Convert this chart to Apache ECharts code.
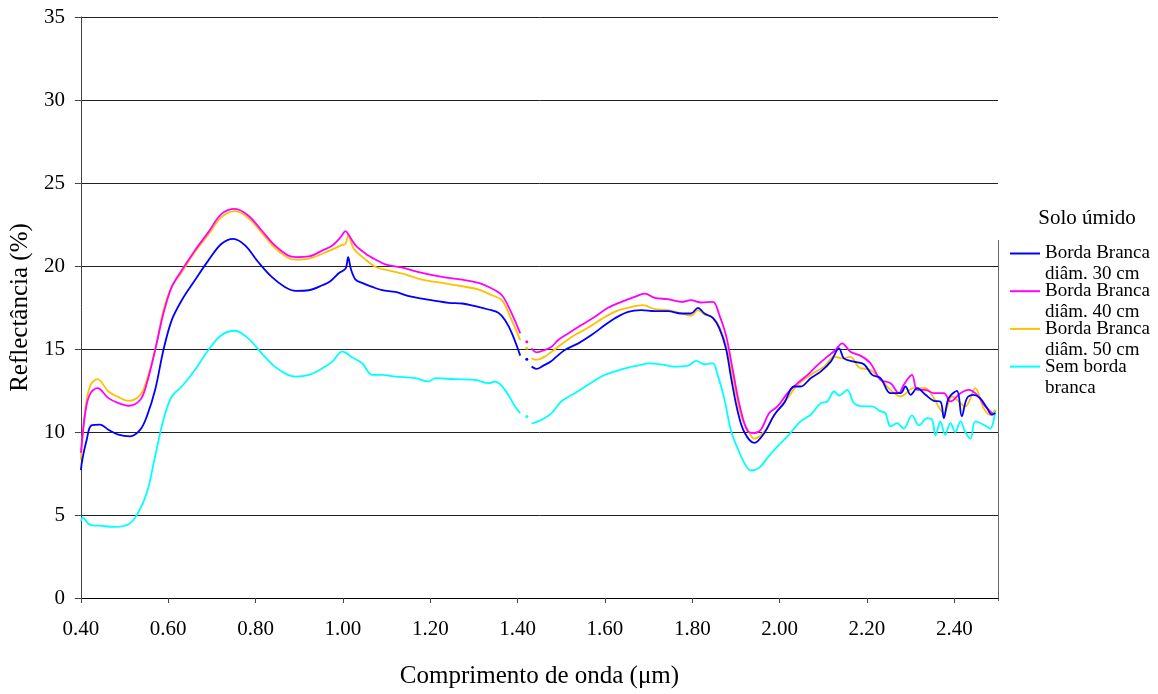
<!DOCTYPE html>
<html>
<head>
<meta charset="utf-8">
<script src="https://cdn.jsdelivr.net/npm/echarts@6/dist/echarts.min.js"></script>
<style>
  html, body { margin: 0; padding: 0; background: #fff; }
  #chart { width: 1158px; height: 694px; }
</style>
</head>
<body>
<div id="chart"></div>
<script>
// Spectral reflectance of moist soil, 0.40–2.50 µm.
// Each curve is split at the 1.4 µm water band; a single reading sits inside the gap.

const seriesNames = [
  'Borda Branca\ndiâm. 30 cm',
  'Borda Branca\ndiâm. 40 cm',
  'Borda Branca\ndiâm. 50 cm',
  'Sem borda\nbranca'
];
const seriesColors = ['#0000FF', '#FF00FF', '#FFC000', '#00FFFF'];

const xTicks = { min: 0.4, max: 2.5, step: 0.2 };
const yTicks = { min: 0, max: 35, step: 5 };

// [wavelength µm, reflectance %] — visible / near infrared up to the water band
const borda30Vis = [[0.400,7.7],[0.403,8.3],[0.413,9.5],[0.424,10.4],[0.444,10.45],[0.463,10.14],[0.486,9.84],[0.513,9.74],[0.536,10.14],[0.551,10.94],[0.570,12.54],[0.589,14.94],[0.608,16.74],[0.631,17.94],[0.661,19.14],[0.692,20.34],[0.722,21.34],[0.749,21.64],[0.776,21.24],[0.806,20.24],[0.837,19.34],[0.867,18.74],[0.892,18.5],[0.922,18.54],[0.953,18.84],[0.972,19.1],[0.991,19.58],[1.006,19.84],[1.012,20.54],[1.018,19.84],[1.029,19.18],[1.044,18.98],[1.067,18.74],[1.090,18.54],[1.120,18.44],[1.151,18.18],[1.181,18.04],[1.212,17.9],[1.242,17.78],[1.273,17.74],[1.303,17.58],[1.333,17.38],[1.356,17.18],[1.371,16.74],[1.387,15.94],[1.406,14.6]];
const borda40Vis = [[0.400,8.74],[0.411,11.34],[0.422,12.34],[0.438,12.64],[0.463,12.04],[0.486,11.74],[0.509,11.58],[0.536,11.94],[0.551,12.94],[0.570,14.94],[0.589,17.14],[0.608,18.74],[0.631,19.74],[0.661,20.94],[0.692,22.04],[0.722,23.14],[0.753,23.44],[0.783,23.04],[0.814,22.14],[0.844,21.24],[0.874,20.64],[0.892,20.54],[0.922,20.58],[0.953,20.94],[0.976,21.24],[0.995,21.74],[1.006,22.1],[1.014,21.84],[1.029,21.24],[1.052,20.74],[1.075,20.38],[1.097,20.1],[1.136,19.9],[1.181,19.58],[1.227,19.34],[1.273,19.18],[1.311,18.98],[1.341,18.64],[1.364,18.24],[1.383,17.34],[1.406,15.94]];
const borda50Vis = [[0.400,8.34],[0.411,11.54],[0.422,12.84],[0.438,13.18],[0.463,12.44],[0.486,12.1],[0.509,11.88],[0.536,12.24],[0.551,13.14],[0.570,14.94],[0.589,17.34],[0.608,18.74],[0.631,19.64],[0.661,20.84],[0.692,21.9],[0.722,22.94],[0.753,23.3],[0.783,22.9],[0.814,22.0],[0.844,21.1],[0.874,20.5],[0.892,20.38],[0.922,20.44],[0.953,20.74],[0.976,21.0],[0.995,21.24],[1.006,21.34],[1.012,21.84],[1.025,21.04],[1.052,20.38],[1.075,19.94],[1.097,19.78],[1.136,19.54],[1.181,19.18],[1.227,18.98],[1.273,18.78],[1.311,18.58],[1.341,18.24],[1.364,17.94],[1.383,16.94],[1.406,15.54]];
const semBordaVis = [[0.400,4.64],[0.404,4.84],[0.419,4.44],[0.449,4.34],[0.478,4.28],[0.509,4.44],[0.529,5.04],[0.551,6.34],[0.570,8.54],[0.589,10.74],[0.608,12.14],[0.631,12.74],[0.661,13.74],[0.692,14.94],[0.722,15.84],[0.753,16.1],[0.783,15.64],[0.814,14.74],[0.844,13.94],[0.874,13.44],[0.892,13.34],[0.922,13.44],[0.953,13.84],[0.976,14.24],[0.998,14.84],[1.006,14.78],[1.021,14.5],[1.044,14.14],[1.067,13.44],[1.090,13.44],[1.120,13.34],[1.166,13.24],[1.196,13.04],[1.212,13.24],[1.257,13.18],[1.303,13.14],[1.333,12.94],[1.349,13.04],[1.371,12.54],[1.394,11.54],[1.406,11.14]];

// single readings inside the water band, one per curve
const bandWavelength = 1.421;
const bandReadings = [14.38, 15.44, 15.04, 10.94];

// [wavelength µm, reflectance %] — after the water band
const borda30Nir = [[1.432,13.94],[1.443,13.8],[1.459,14.0],[1.476,14.24],[1.489,14.54],[1.508,14.94],[1.539,15.34],[1.569,15.84],[1.600,16.44],[1.622,16.84],[1.653,17.24],[1.683,17.34],[1.714,17.28],[1.744,17.28],[1.775,17.14],[1.797,17.14],[1.813,17.48],[1.828,17.14],[1.847,16.88],[1.862,16.24],[1.877,15.04],[1.889,13.24],[1.904,11.24],[1.919,10.0],[1.942,9.34],[1.965,9.94],[1.988,11.04],[2.010,11.74],[2.033,12.74],[2.048,12.74],[2.071,13.24],[2.094,13.64],[2.117,14.24],[2.136,15.04],[2.147,14.44],[2.170,14.24],[2.193,14.08],[2.212,13.44],[2.231,13.24],[2.254,12.34],[2.277,12.34],[2.288,12.74],[2.300,12.24],[2.315,12.64],[2.334,12.24],[2.353,11.88],[2.368,11.84],[2.376,10.84],[2.387,12.04],[2.406,12.48],[2.417,10.94],[2.429,12.04],[2.444,12.24],[2.459,12.04],[2.475,11.44],[2.486,11.04],[2.494,11.14]];
const borda40Nir = [[1.432,15.04],[1.443,14.8],[1.462,14.94],[1.478,15.14],[1.493,15.54],[1.516,15.94],[1.546,16.44],[1.577,16.94],[1.607,17.48],[1.638,17.84],[1.668,18.14],[1.691,18.34],[1.714,18.08],[1.744,18.0],[1.775,17.84],[1.797,17.94],[1.820,17.8],[1.847,17.84],[1.862,17.04],[1.877,15.84],[1.892,13.84],[1.908,11.64],[1.927,10.04],[1.942,9.94],[1.957,10.14],[1.976,11.14],[1.995,11.54],[2.018,12.34],[2.041,12.94],[2.064,13.44],[2.083,13.94],[2.109,14.54],[2.128,14.94],[2.143,15.34],[2.162,14.84],[2.185,14.6],[2.208,14.14],[2.231,13.14],[2.254,12.94],[2.273,12.34],[2.284,12.84],[2.303,13.44],[2.315,12.54],[2.334,12.54],[2.353,12.34],[2.376,12.34],[2.391,11.84],[2.414,12.34],[2.433,12.54],[2.452,12.24],[2.471,11.54],[2.490,11.04]];
const borda50Nir = [[1.432,14.44],[1.443,14.34],[1.462,14.54],[1.478,14.84],[1.500,15.28],[1.531,15.84],[1.561,16.28],[1.592,16.8],[1.622,17.24],[1.653,17.48],[1.687,17.64],[1.714,17.4],[1.744,17.34],[1.775,17.14],[1.797,17.0],[1.813,17.34],[1.828,17.08],[1.847,16.88],[1.862,16.34],[1.881,14.84],[1.896,12.84],[1.911,11.04],[1.927,10.14],[1.942,9.6],[1.965,10.04],[1.988,11.04],[2.018,12.04],[2.041,12.84],[2.071,13.44],[2.102,13.94],[2.125,14.54],[2.143,14.44],[2.162,14.52],[2.182,13.88],[2.208,13.74],[2.239,12.94],[2.262,12.34],[2.277,12.14],[2.307,12.64],[2.334,12.64],[2.353,12.04],[2.376,11.14],[2.395,12.14],[2.425,11.54],[2.448,12.64],[2.467,11.44],[2.482,11.04],[2.494,11.34]];
const semBordaNir = [[1.432,10.5],[1.455,10.74],[1.478,11.14],[1.500,11.84],[1.531,12.34],[1.561,12.84],[1.592,13.34],[1.622,13.64],[1.653,13.88],[1.683,14.04],[1.699,14.14],[1.729,14.08],[1.759,13.94],[1.790,14.0],[1.809,14.28],[1.828,14.08],[1.847,14.14],[1.858,13.44],[1.873,12.04],[1.889,10.04],[1.904,9.0],[1.919,8.14],[1.934,7.68],[1.953,7.84],[1.972,8.44],[1.995,9.14],[2.018,9.74],[2.048,10.64],[2.071,11.04],[2.094,11.74],[2.109,11.84],[2.125,12.44],[2.136,12.2],[2.155,12.54],[2.170,11.74],[2.193,11.54],[2.212,11.54],[2.231,11.24],[2.242,11.14],[2.254,10.34],[2.269,10.54],[2.284,10.2],[2.303,11.0],[2.319,10.4],[2.338,10.84],[2.349,10.74],[2.357,9.8],[2.368,10.64],[2.379,9.84],[2.391,10.54],[2.402,10.0],[2.414,10.64],[2.425,10.0],[2.437,9.6],[2.448,10.64],[2.467,10.44],[2.482,10.2],[2.494,11.34]];

const visParts = [borda30Vis, borda40Vis, borda50Vis, semBordaVis];
const nirParts = [borda30Nir, borda40Nir, borda50Nir, semBordaNir];

const FONT = 'Liberation Serif, Times New Roman, serif';

// join the two parts with breaks around the isolated water-band reading
function buildCurve(i) {
  return [
    ...visParts[i],
    [bandWavelength - 0.007, '-'],
    { value: [bandWavelength, bandReadings[i]], symbol: 'circle', symbolSize: 3 },
    [bandWavelength + 0.006, '-'],
    ...nirParts[i]
  ];
}

const series = seriesNames.map((name, i) => ({
  name,
  type: 'line',
  data: buildCurve(i),
  symbol: 'none',
  showSymbol: true,
  connectNulls: false,
  smooth: 0.35,
  color: seriesColors[i],
  lineStyle: { color: seriesColors[i], width: 1.8 },
  itemStyle: { color: seriesColors[i] },
  emphasis: { disabled: true },
  z: 10 - i
}));

const chart = echarts.init(document.getElementById('chart'), null, { renderer: 'canvas' });
chart.setOption({
  animation: false,
  backgroundColor: '#ffffff',
  grid: { left: 79, right: 160, top: 17, bottom: 93, containLabel: false },
  xAxis: {
    type: 'value',
    min: xTicks.min,
    max: xTicks.max,
    interval: xTicks.step,
    name: 'Comprimento de onda (μm)',
    nameLocation: 'middle',
    nameGap: 66,
    nameTextStyle: { fontFamily: FONT, fontSize: 25, color: '#000' },
    axisLine: { show: true, lineStyle: { color: '#000', width: 1 } },
    axisTick: { show: true, inside: false, length: 5, lineStyle: { color: '#444' } },
    axisLabel: {
      fontFamily: FONT, fontSize: 21, color: '#000', margin: 21,
      showMaxLabel: false,
      formatter: v => v.toFixed(2)
    },
    splitLine: { show: false }
  },
  yAxis: {
    type: 'value',
    min: yTicks.min,
    max: yTicks.max,
    interval: yTicks.step,
    name: 'Reflectância (%)',
    nameLocation: 'middle',
    nameGap: 47,
    nameRotate: 90,
    nameTextStyle: { fontFamily: FONT, fontSize: 25, color: '#000' },
    axisLine: { show: true, lineStyle: { color: '#444', width: 1 } },
    axisTick: { show: true, inside: false, length: 6, lineStyle: { color: '#444' } },
    axisLabel: { fontFamily: FONT, fontSize: 21, color: '#000', margin: 16 },
    splitLine: { show: true, lineStyle: { color: '#222', width: 1 } }
  },
  legend: {
    orient: 'vertical',
    left: 1010,
    top: 222,
    padding: 0,
    itemGap: -25.3,
    itemWidth: 30,
    itemHeight: 2,
    icon: 'rect',
    selectedMode: false,
    data: seriesNames,
    // leading blank line keeps the sample line level with the first text line
    formatter: name => '\n' + name,
    textStyle: { fontFamily: FONT, fontSize: 19, color: '#000', lineHeight: 21 }
  },
  graphic: [
    {
      type: 'text',
      x: 1087, y: 218,
      style: { text: 'Solo úmido', font: '21px ' + FONT, fill: '#000', align: 'center', verticalAlign: 'middle' }
    },
    {
      type: 'line',
      shape: { x1: 998.5, y1: 240, x2: 998.5, y2: 601 },
      style: { stroke: '#666', lineWidth: 1 }
    }
  ],
  series
});
</script>
</body>
</html>
